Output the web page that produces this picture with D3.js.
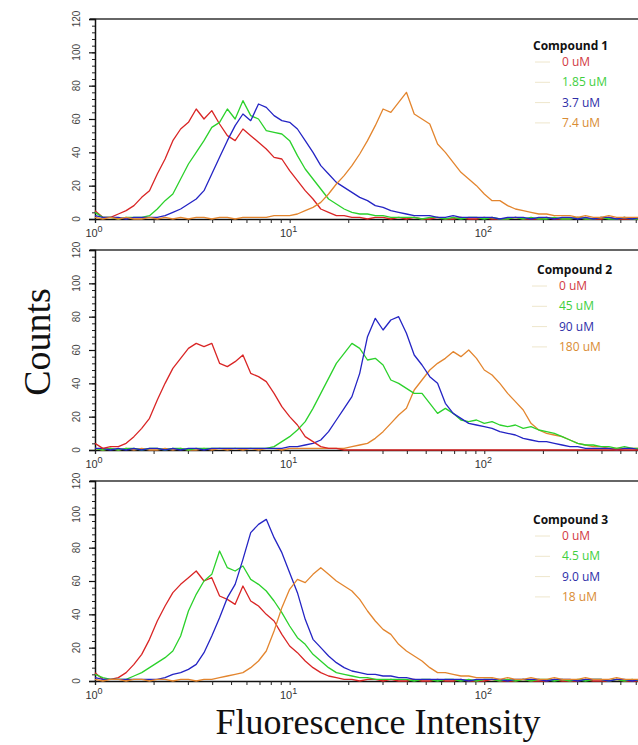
<!DOCTYPE html>
<html>
<head>
<meta charset="utf-8">
<script src="https://cdn.jsdelivr.net/npm/d3@7"></script>
<style>
  body { margin: 0; background: #fff; }
  svg { display: block; }
</style>
</head>
<body>
<div class="canvas"></div>
<script>
// channel grid: log10 intensity from 10^0 to 10^2.8, step 0.04 decade
const channelStep = 0.04;
const channels = d3.range(0, 71).map((i) => Math.pow(10, i * channelStep));

const yTicks = [0, 20, 40, 60, 80, 100, 120];
const xTicks = [1, 10, 100];
const xTickExp = ["0", "1", "2"];

// Compound 1
const comp1Labels = ["0 uM", "1.85 uM", "3.7 uM", "7.4 uM"];
const comp1_0 = [5,1,1,3,5,8,13,17,27,36, 47,54,58,66,60,65,57,50,47,54, 50,46,42,37,36,29,23,17,12,6, 4,2,2,1,1,0,1,1,0,1, 0,1,0,0,1,0,0,1,0,0, 1,0,0,0,1,0,0,0,1,0, 0,0,1,0,0,0,1,0,0,0,0];
const comp1_1 = [4,1,1,0,1,1,1,2,6,11, 15,24,33,40,47,55,58,66,60,71, 62,60,53,52,51,47,38,30,24,18, 12,9,6,4,3,3,2,2,1,1, 1,1,0,1,1,0,1,0,1,1, 0,1,0,0,1,0,1,0,0,1, 0,0,1,0,0,1,0,0,1,0,0];
const comp1_2 = [2,1,1,1,0,1,1,1,1,2, 4,6,9,12,17,27,37,47,56,63, 59,69,67,62,59,58,54,47,40,32, 27,22,19,16,13,11,8,7,5,4, 3,2,2,2,1,1,2,1,1,1, 1,1,0,1,1,1,0,1,1,0, 1,1,0,1,0,1,1,0,1,0,1];
const comp1_3 = [1,0,1,0,1,0,0,1,0,1, 0,1,0,1,1,0,1,1,0,1, 1,1,1,2,2,2,3,5,7,10, 15,21,26,32,39,47,56,66,64,70, 76,63,60,57,45,40,34,28,24,20, 15,11,11,8,6,5,4,3,3,2, 2,2,1,2,1,1,2,1,1,1,1];

// Compound 2
const comp2Labels = ["0 uM", "45 uM", "90 uM", "180 uM"];
const comp2_0 = [4,1,2,2,4,8,13,19,30,40, 49,55,61,64,62,64,52,50,53,57, 46,44,41,34,26,20,15,8,5,2, 1,1,0,0,0,0,0,0,0,0, 0,0,0,0,0,0,0,0,0,0, 0,0,0,0,0,0,0,0,0,0, 0,0,0,0,0,0,0,0,0,0,0];
const comp2_1 = [1,0,1,0,1,1,0,1,1,0, 1,1,0,1,1,1,1,1,1,1, 1,1,1,2,5,8,12,17,25,34, 43,52,58,64,61,54,55,51,42,40, 37,34,34,28,22,25,22,18,17,18, 16,17,15,14,15,13,14,12,11,10, 8,6,4,3,3,2,2,1,2,1,1];
const comp2_2 = [1,1,0,1,0,1,0,1,1,0, 1,0,1,1,0,1,1,1,1,1, 1,1,1,1,1,2,2,3,4,6, 11,18,25,32,46,68,79,72,78,80, 70,57,51,44,40,28,22,19,16,15, 14,13,11,10,9,7,6,5,5,4, 3,2,2,1,1,1,1,0,1,1,0];
const comp2_3 = [1,0,1,0,1,0,1,0,0,1, 0,1,0,0,1,0,1,0,1,0, 1,0,1,1,0,1,1,1,1,1, 1,1,1,2,3,4,7,11,16,21, 25,36,42,48,52,55,59,56,60,55, 48,45,40,34,29,24,16,12,10,9, 8,6,4,3,2,2,1,1,1,1,1];

// Compound 3
const comp3Labels = ["0 uM", "4.5 uM", "9.0 uM", "18 uM"];
const comp3_0 = [5,1,1,2,5,10,16,25,36,45, 53,58,62,66,60,62,51,49,46,57, 48,45,40,36,28,21,17,12,8,5, 3,2,1,1,0,1,1,0,1,0, 0,1,0,0,1,0,0,1,0,0, 0,1,0,0,0,1,0,0,0,1, 0,0,0,1,0,0,0,1,0,0,0];
const comp3_1 = [4,2,1,1,1,3,5,8,11,14, 18,27,42,52,60,64,78,68,66,69, 61,58,54,48,41,33,26,22,16,12, 8,5,4,3,2,2,1,1,1,1, 1,0,1,1,0,1,1,0,1,0, 1,1,0,1,0,1,0,1,1,0, 1,0,1,0,1,1,0,1,0,1,0];
const comp3_2 = [2,1,1,1,1,1,1,1,1,2, 4,5,7,10,17,27,38,50,58,73, 89,94,97,86,77,65,53,37,25,20, 15,11,8,6,5,4,4,3,3,2, 2,1,1,1,1,1,1,1,0,1, 1,1,1,0,1,1,1,1,0,1, 1,1,0,1,1,1,0,1,1,0,1];
const comp3_3 = [1,0,1,1,0,1,1,0,1,1, 0,1,1,0,1,1,2,3,4,5, 8,12,18,30,44,55,61,59,64,68, 64,60,57,54,49,42,36,31,28,22, 18,15,12,8,5,5,4,3,3,2, 2,2,1,2,1,1,2,1,1,2, 1,1,1,2,1,1,1,2,1,1,1];

const lineColors = ["#d92525", "#2bd12b", "#2424c4", "#e3852e"];
const textColors = ["#d23a44", "#3fcf3f", "#2e2ea8", "#d98c34"];

const dims = { width: 638, height: 745, left: 95, plotW: 545, plotH: 200 };

const panels = [
  { top: 19, title: "Compound 1", labels: comp1Labels, series: [comp1_0, comp1_1, comp1_2, comp1_3], order: [0, 1, 2, 3], legendX: 533, textX: 562, legendY: 50 },
  { top: 250, title: "Compound 2", labels: comp2Labels, series: [comp2_0, comp2_1, comp2_2, comp2_3], order: [3, 1, 2, 0], legendX: 537, textX: 559, legendY: 274 },
  { top: 481, title: "Compound 3", labels: comp3Labels, series: [comp3_0, comp3_1, comp3_2, comp3_3], order: [0, 1, 2, 3], legendX: 533, textX: 562, legendY: 524 },
];

const svg = d3
  .select(".canvas")
  .append("svg")
  .attr("width", dims.width)
  .attr("height", dims.height);

const x = d3
  .scaleLog()
  .domain([1, Math.pow(10, 2.8)])
  .range([0, dims.plotW]);

const y = d3.scaleLinear().domain([0, 120]).range([dims.plotH, 0]);

const line = d3
  .line()
  .x((d, i) => x(channels[i]))
  .y((d) => y(d));

// minor x ticks 2..9 per decade
const xMinor = [];
[1, 10, 100].forEach((dec) => {
  for (let k = 2; k <= 9; k++) {
    if (dec * k <= Math.pow(10, 2.8)) xMinor.push(dec * k);
  }
});

const tickFont = "'Liberation Sans Narrow', 'Liberation Sans', Arial, sans-serif";
const legendFont = "'Open Sans', 'Liberation Sans', sans-serif";

panels.forEach((p) => {
  const graph = svg
    .append("g")
    .attr("transform", `translate(${dims.left}, ${p.top})`);

  // top frame
  graph
    .append("line")
    .attr("x1", -5)
    .attr("x2", dims.plotW)
    .attr("y1", 0)
    .attr("y2", 0)
    .attr("stroke", "#333")
    .attr("stroke-width", 1.3);

  // y axis, minor then major
  graph
    .append("g")
    .call(d3.axisLeft(y).tickValues(d3.range(0, 121, 4)).tickSize(3).tickFormat(""))
    .call((g) => g.select(".domain").remove())
    .selectAll("line")
    .attr("stroke", "#222");

  const yAxis = graph
    .append("g")
    .call(d3.axisLeft(y).tickValues(yTicks).tickSize(6).tickFormat(""));
  yAxis.select(".domain").attr("stroke", "#111").attr("stroke-width", 1.5);
  yAxis.selectAll("line").attr("stroke", "#111").attr("stroke-width", 1.2);

  graph
    .selectAll(".ylab")
    .data(yTicks)
    .enter()
    .append("text")
    .attr("transform", (d) => `translate(-19, ${y(d)}) rotate(-90)`)
    .attr("text-anchor", "middle")
    .attr("dy", "0.35em")
    .attr("font-family", tickFont)
    .attr("font-size", 10)
    .attr("fill", "#444")
    .text((d) => d);

  // x axis
  const xAxis = graph
    .append("g")
    .attr("transform", `translate(0, ${dims.plotH})`)
    .call(d3.axisBottom(x).tickValues(xTicks.concat(xMinor)).tickSize(4).tickFormat(""));
  xAxis.select(".domain").attr("stroke", "#111").attr("stroke-width", 1.3);
  xAxis.selectAll("line").attr("stroke", "#222");

  const xl = graph
    .selectAll(".xlab")
    .data(xTicks)
    .enter()
    .append("text")
    .attr("x", (d) => x(d) - 1)
    .attr("y", dims.plotH + 18)
    .attr("text-anchor", "middle")
    .attr("font-family", tickFont)
    .attr("font-size", 11)
    .attr("fill", "#333");
  xl.append("tspan").text("10");
  xl.append("tspan")
    .attr("dy", -5)
    .attr("font-size", 9)
    .text((d, i) => xTickExp[i]);

  // histogram traces
  const traces = graph.append("g");
  p.order.forEach((k) => {
    traces
      .append("path")
      .attr("d", line(p.series[k]))
      .attr("fill", "none")
      .attr("stroke", lineColors[k])
      .attr("stroke-width", 1.3)
      .attr("stroke-linejoin", "round");
  });

  // legend
  const legend = svg.append("g");
  legend
    .append("text")
    .attr("x", p.legendX)
    .attr("y", p.legendY)
    .attr("font-family", legendFont)
    .attr("font-weight", "bold")
    .attr("font-size", 12)
    .attr("fill", "#111")
    .text(p.title);

  p.labels.forEach((lab, i) => {
    const ly = p.legendY + 16 + i * 20.3;
    legend
      .append("line")
      .attr("x1", p.textX - 27)
      .attr("x2", p.textX - 12)
      .attr("y1", ly - 4)
      .attr("y2", ly - 4)
      .attr("stroke", "#eee6cc")
      .attr("stroke-width", 1);
    legend
      .append("text")
      .attr("x", p.textX)
      .attr("y", ly)
      .attr("font-family", legendFont)
      .attr("font-size", 12)
      .attr("fill", textColors[i])
      .text(lab);
  });
});

// axis titles
svg
  .append("text")
  .attr("transform", "translate(50, 342) rotate(-90)")
  .attr("text-anchor", "middle")
  .attr("font-family", "'Liberation Serif', 'Times New Roman', serif")
  .attr("font-size", 38)
  .attr("fill", "#111")
  .text("Counts");

svg
  .append("text")
  .attr("x", 378)
  .attr("y", 734)
  .attr("text-anchor", "middle")
  .attr("font-family", "'Liberation Serif', 'Times New Roman', serif")
  .attr("font-size", 36)
  .attr("fill", "#111")
  .text("Fluorescence Intensity");
</script>
</body>
</html>
